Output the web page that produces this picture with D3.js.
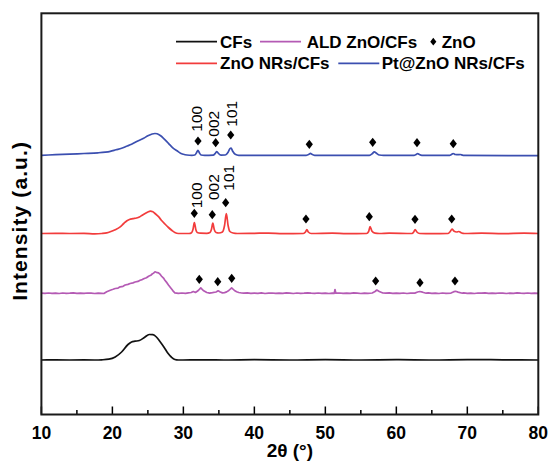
<!DOCTYPE html>
<html><head><meta charset="utf-8">
<script src="https://cdn.jsdelivr.net/npm/d3@7"></script>
<style>body{margin:0;background:#fff} text{font-family:"Liberation Sans",Arial,Helvetica,sans-serif}</style>
</head><body><svg id="c" width="550" height="463"></svg>
<script>
// ---- data ----
const seriesNames = ["CFs", "ALD ZnO/CFs", "ZnO NRs/CFs", "Pt@ZnO NRs/CFs"];
const seriesColors = ["#111111", "#b45ab4", "#f23c3c", "#3b4fb0"];
const seriesOffsets = [54.5, 121, 181, 259.2];

const cfsData = [[10,0],[12,0.1],[14,0],[16,0.1],[17.5,0],[18.5,0.2],[19.5,0.8],[20.4,3],[21.3,8],[22.2,15.5],[22.7,18],[23.2,18.8],[23.8,19.5],[24.5,22.5],[25.2,25.5],[25.7,25.3],[26.2,23],[26.7,18.5],[27.3,12.5],[27.8,7],[28.3,3],[28.8,0.5],[29.3,0],[31,0.1],[33,0.2],[36,0],[40,0.3],[45,0],[50,0.4],[55,0],[60,0.3],[65,0],[70,0.4],[75,0.2],[80,0]];

const aldData = [[10,0.3],[10.5,0.1],[11,0.5],[11.5,0.2],[12,0.4],[12.5,0],[13,0.5],[13.5,0.2],[14,0.3],[14.5,0.6],[15,0.1],[15.5,0.4],[16,0.2],[16.5,0.5],[17,0.3],[17.5,0],[18,0.4],[18.5,0.2],[18.8,0],[19.2,1.8],[19.7,3.3],[20.1,4.2],[20.4,5],[20.8,5.4],[21.1,6.7],[21.5,7.2],[21.8,8.5],[22.2,9.1],[22.5,10],[22.9,10.6],[23.2,11.5],[23.6,12.1],[23.9,13.3],[24.2,13.9],[24.5,15],[24.8,15.8],[25.1,17.3],[25.4,18.2],[25.6,19.5],[25.8,20.4],[26.0,21.7],[26.2,21.2],[26.5,20.7],[26.7,19.4],[26.9,17.5],[27.2,15.4],[27.4,13.3],[27.7,10.6],[27.9,8.5],[28.2,5.8],[28.4,4],[28.6,2.1],[28.8,0.7],[29.3,0.1],[29.8,0.5],[30.3,0.2],[30.7,0.6],[31.1,1],[31.4,2],[31.7,1],[32.1,3],[32.45,5.7],[32.8,3],[33.3,1],[33.7,0.4],[34.1,0.8],[34.6,1.5],[34.9,2.7],[35.2,1.5],[35.5,0.6],[35.8,0.9],[36.1,1.6],[36.4,3],[36.8,5.7],[37.2,3],[37.5,1.8],[37.8,1],[38.2,0.5],[38.5,0.3],[39,0.6],[39.5,0.1],[40,0.4],[40.5,0.2],[41,0.6],[41.5,0],[42,0.3],[42.5,0.5],[43,0.1],[43.5,0.4],[44,0.2],[44.5,0.6],[45,0.3],[45.5,0],[46,0.5],[46.5,0.2],[47,0.4],[47.5,0.7],[48,0.3],[48.5,0.1],[49,0.5],[49.5,0.2],[50,0.4],[50.5,0],[51,0.3],[51.25,0.2],[51.36,4],[51.48,0.3],[52,0.5],[52.5,0.1],[53,0.4],[53.5,0.2],[54,0.6],[54.5,0.3],[55,0],[55.5,0.4],[56,0.2],[56.6,0.5],[57.0,2],[57.25,3.5],[57.6,2],[58.1,0.5],[58.5,0.3],[59,0.6],[59.5,0.1],[60,0.4],[60.5,0.2],[61,0.5],[61.5,0],[62,0.3],[62.6,0.4],[63.0,1.5],[63.3,2],[63.7,1.3],[64.2,0.3],[64.5,0.6],[65,0.2],[65.5,0.4],[66,0],[66.5,0.5],[67,0.2],[67.7,0.4],[68.1,1.8],[68.35,2.2],[68.7,1.4],[69.3,0.3],[69.5,0.6],[70,0.2],[70.5,0.4],[71,0],[71.5,0.5],[72,0.3],[72.5,0.6],[73,0.1],[73.5,0.4],[74,0.2],[74.5,0.5],[75,0.3],[75.5,0],[76,0.4],[76.5,0.2],[77,0.6],[77.5,0.3],[78,0.1],[78.5,0.5],[79,0.2],[79.5,0.4],[80,0.2]];

const nrsData = [[10,0],[12,0.2],[14,0],[16,0.1],[17.5,-0.3],[18.5,0],[19.2,0.6],[19.7,1.7],[20.4,3.8],[21.1,6.7],[21.6,10],[22.0,12.5],[22.4,14],[22.9,14.8],[23.4,15.5],[23.8,16.5],[24.2,18.3],[24.6,20],[25.0,21.5],[25.35,22.3],[25.7,21.8],[26.0,20],[26.5,16.8],[26.9,13.3],[27.4,9.5],[27.9,6],[28.4,3],[28.8,1],[29.3,0],[30.8,0],[31.15,0.8],[31.35,4],[31.55,11],[31.75,4],[31.95,1],[32.4,0.3],[33.3,0.2],[33.75,1],[33.95,4],[34.15,10.3],[34.35,4],[34.6,1],[35.0,0.5],[35.5,1.5],[35.8,8],[36.05,20],[36.3,8],[36.55,2],[37,0.5],[37.6,0],[40,0.2],[42,0.4],[44,-0.2],[46.9,0],[47.2,1.5],[47.4,4],[47.6,1.5],[48,0],[51,0.4],[53,-0.2],[55.8,0],[56.1,2],[56.3,7],[56.55,2.5],[57,0.3],[57.6,0],[59,0.4],[62.2,0],[62.45,1.5],[62.65,4],[62.9,1.5],[63.3,0],[65,-0.2],[67.3,0],[67.6,2],[67.85,4.5],[68.1,2.5],[68.5,1.5],[68.8,2],[69.2,0.5],[69.6,0],[72,0.4],[75,-0.2],[78,0.3],[80,0]];

const ptData = [[10,0],[12,0.6],[14,1.2],[16,1.8],[18,2.5],[19,3.2],[19.7,4],[20.5,5.5],[21.3,7],[22,9],[22.7,11],[23.5,14],[24.4,17],[25,19.5],[25.6,21.3],[26.0,21.8],[26.3,21.5],[26.8,19.5],[27.2,17],[27.7,13.5],[28.1,10.5],[28.6,7],[29.1,4.5],[29.6,2],[30,1],[30.5,0.3],[31.2,0],[31.6,0.3],[31.85,2.5],[32.05,5],[32.25,2.5],[32.5,0.3],[33,0],[34.2,0.2],[34.5,2],[34.72,3.8],[34.95,1.8],[35.3,0.2],[35.9,0.3],[36.3,3],[36.55,6.5],[36.72,7.2],[36.95,4],[37.3,1],[37.8,0],[47.3,0],[47.7,1],[47.9,2],[48.1,1],[48.5,0],[56.2,0],[56.6,1.5],[56.9,3.5],[57.2,2],[57.6,0.3],[58.2,0],[62.5,0],[62.85,1],[63.0,1.8],[63.2,1],[63.6,0],[67.5,0],[67.8,1],[68.0,1.8],[68.3,0.8],[68.7,0.6],[69.0,0.8],[69.4,0],[80,-0.3]];

// ZnO diamond markers (2θ, height above series baseline)
const aldMarkers = [[32.24,14.2],[34.84,11.8],[36.81,15.2],[57.09,12.5],[63.33,10.8],[68.26,12.5]];
const nrsMarkers = [[31.54,20.2],[34.07,18.8],[35.96,30.8],[47.27,14.5],[56.19,16.8],[62.63,14.2],[67.80,14.5]];
const ptMarkers  = [[32.06,14.3],[34.55,12.6],[36.67,20.3],[47.74,11.0],[56.67,13.0],[62.91,12.6],[68.02,11.6]];

// hkl labels (2θ, start height above series baseline)
const hklLabels = ["100", "002", "101"];
const nrsLabelPos = [[31.88,25.2],[34.22,33.5],[36.33,42.8]];
const ptLabelPos  = [[31.88,23.6],[34.22,18.6],[36.81,28.6]];

const xTicks = [10, 20, 30, 40, 50, 60, 70, 80];
const xMinorTicks = [15, 25, 35, 45, 55, 65, 75];
const xLabel = "2θ (°)";
const yLabel = "Intensity (a.u.)";
const markerName = "ZnO";

// ---- drawing ----
const svg = d3.select("#c");
const L = 41.4, R = 538.3, T = 13.3, B = 414.5;
const x = d3.scaleLinear().domain([10, 80]).range([L, R]);
const y = d3.scaleLinear().domain([0, 401.2]).range([B, T]);

const allData = [cfsData, aldData, nrsData, ptData];
const allMarkers = [null, aldMarkers, nrsMarkers, ptMarkers];
const curves = [d3.curveMonotoneX, d3.curveLinear, d3.curveMonotoneX, d3.curveMonotoneX];

allData.forEach((data, i) => {
  const off = seriesOffsets[i];
  const line = d3.line().x(d => x(d[0])).y(d => y(d[1] + off)).curve(curves[i]);
  svg.append("path").datum(data).attr("d", line)
    .attr("fill", "none").attr("stroke", seriesColors[i])
    .attr("stroke-width", 1.7).attr("stroke-linejoin", "round");
});

const diamond = "M0,-4.6L3.6,0L0,4.6L-3.6,0Z";
allMarkers.forEach((m, i) => {
  if (!m) return;
  const off = seriesOffsets[i];
  svg.selectAll(null).data(m).enter().append("path")
    .attr("d", diamond)
    .attr("transform", d => `translate(${x(d[0])},${y(d[1] + off)})`)
    .attr("fill", "#000");
});

[[nrsLabelPos, 2], [ptLabelPos, 3]].forEach(([pos, i]) => {
  const off = seriesOffsets[i];
  svg.selectAll(null).data(pos).enter().append("text")
    .attr("transform", d => `translate(${x(d[0])},${y(d[1] + off)}) rotate(-90)`)
    .attr("dy", "0.36em")
    .attr("font-size", 15.5)
    .attr("fill", "#000")
    .text((d, k) => hklLabels[k]);
});

// ticks (inside, bottom only)
const tickG = svg.append("g");
tickG.selectAll(null).data(xTicks).enter().append("line")
  .attr("x1", d => x(d)).attr("x2", d => x(d))
  .attr("y1", B).attr("y2", B - 8)
  .attr("stroke", "#000").attr("stroke-width", 1.5);
tickG.selectAll(null).data(xMinorTicks).enter().append("line")
  .attr("x1", d => x(d)).attr("x2", d => x(d))
  .attr("y1", B).attr("y2", B - 4.5)
  .attr("stroke", "#000").attr("stroke-width", 1.5);
tickG.selectAll(null).data(xTicks).enter().append("text")
  .attr("x", d => x(d)).attr("y", 439)
  .attr("text-anchor", "middle").attr("font-size", 17.5).attr("font-weight", "bold")
  .text(d => d);

// frame
svg.append("rect").attr("x", L).attr("y", T).attr("width", R - L).attr("height", B - T)
  .attr("fill", "none").attr("stroke", "#1a1a1a").attr("stroke-width", 2);

// axis labels
svg.append("text").attr("x", (L + R) / 2).attr("y", 457)
  .attr("text-anchor", "middle").attr("font-size", 19).attr("font-weight", "bold")
  .text(xLabel);
svg.append("text").attr("transform", `translate(27,${(T + B) / 2 + 7}) rotate(-90)`)
  .attr("text-anchor", "middle").attr("font-size", 21).attr("font-weight", "bold")
  .attr("letter-spacing", 1.1)
  .text(yLabel);

// legend
const legendItems = [
  {s: 0, lx: 176, ly: 41.7, tx: 220},
  {s: 1, lx: 260, ly: 41.7, tx: 306.7},
  {s: 2, lx: 176, ly: 63.3, tx: 220},
  {s: 3, lx: 338.3, ly: 63.3, tx: 381.7}
];
const lg = svg.append("g");
legendItems.forEach(it => {
  lg.append("line").attr("x1", it.lx).attr("x2", it.lx + 41).attr("y1", it.ly).attr("y2", it.ly)
    .attr("stroke", seriesColors[it.s]).attr("stroke-width", 1.7);
  lg.append("text").attr("x", it.tx).attr("y", it.ly + 5.8)
    .attr("font-size", 17).attr("font-weight", "bold").text(seriesNames[it.s]);
});
lg.append("path").attr("d", diamond).attr("transform", "translate(433.3,41.7) scale(0.85)").attr("fill", "#000");
lg.append("text").attr("x", 441.7).attr("y", 47.5).attr("font-size", 17).attr("font-weight", "bold").text(markerName);
</script></body></html>
